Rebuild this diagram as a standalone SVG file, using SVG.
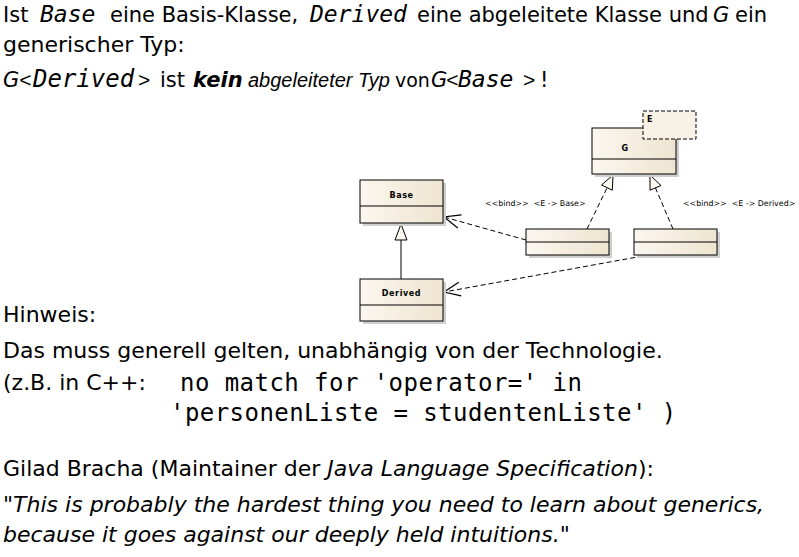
<svg xmlns="http://www.w3.org/2000/svg" width="799" height="557" viewBox="0 0 799 557">
<defs>
<linearGradient id="cls" x1="0" y1="0" x2="1" y2="0">
<stop offset="0" stop-color="#fbf7ef"/>
<stop offset="1" stop-color="#eee4d0"/>
</linearGradient>
<marker id="open" markerUnits="userSpaceOnUse" markerWidth="20" markerHeight="20" viewBox="-14 -8 16 16" refX="0" refY="0" orient="auto">
<path d="M-13,-5.5 L0,0 L-13,5.5" fill="none" stroke="#000" stroke-width="1"/>
</marker>
<style>
.t{font-family:"DejaVu Sans",Verdana,sans-serif;font-size:22px;fill:#000}
.h{font-size:21px}
.i{font-style:italic}
.b{font-weight:bold}
.br{font-family:"Liberation Sans",Arial,sans-serif;font-size:21px}
.m{font-family:"DejaVu Sans Mono","Liberation Mono",monospace;font-style:italic;font-size:23px}
.code{font-family:"DejaVu Sans Mono","Liberation Mono",monospace;font-size:24px;letter-spacing:0.45px;fill:#000}
.box{fill:url(#cls);stroke:#000;stroke-width:1}
.shadow{fill:#cfcfcf}
.ln{stroke:#000;stroke-width:1;fill:none}
.dash{stroke:#000;stroke-width:1;fill:none;stroke-dasharray:5,3}
.lbl{font-family:"DejaVu Sans",Verdana,sans-serif;font-size:8px;font-weight:bold;fill:#000;text-anchor:middle;letter-spacing:0.6px}
.bind{font-family:"DejaVu Sans",Verdana,sans-serif;font-size:7.9px;fill:#000;white-space:pre}
</style>
</defs>
<rect width="799" height="557" fill="#fff"/>

<g id="text">
<text class="t h" y="22"><tspan x="3">Ist</tspan><tspan x="40" class="m">Base</tspan><tspan x="110">eine Basis-Klasse,</tspan><tspan x="310" class="m">Derived</tspan><tspan x="417">eine abgeleitete Klasse und</tspan><tspan x="713" class="i">G</tspan><tspan x="735">ein</tspan></text>
<text class="t" x="3" y="52">generischer Typ:</text>
<text class="t h" y="87"><tspan x="3" class="i">G</tspan><tspan x="19" class="i br">&lt;</tspan><tspan x="33" class="m" style="font-size:24px">Derived</tspan><tspan x="138" class="br">&gt;</tspan><tspan x="160">ist</tspan><tspan x="193" class="i b">kein</tspan><tspan x="248" class="i" style="font-family:'Liberation Sans',Arial,sans-serif;font-size:20px">abgeleiteter Typ</tspan><tspan x="395" style="font-size:19px">von</tspan><tspan x="431" class="i">G</tspan><tspan x="446" class="i br">&lt;</tspan><tspan x="458" class="m">Base</tspan><tspan x="523" class="br">&gt;</tspan><tspan x="540">!</tspan></text>
<text class="t" x="3" y="322">Hinweis:</text>
<text class="t" x="3" y="358">Das muss generell gelten, unabhängig von der Technologie.</text>
<text class="t" x="3" y="390">(z.B. in C++:</text>
<text class="code" x="180" y="391">no match for 'operator=' in</text>
<text class="code" x="170" y="421">'personenListe = studentenListe' )</text>
<text class="t" x="3" y="476">Gilad Bracha (Maintainer der <tspan class="i">Java Language Specification</tspan>):</text>
<text class="t i" x="3" y="512">"This is probably the hardest thing you need to learn about generics,</text>
<text class="t i" x="3" y="542">because it goes against our deeply held intuitions."</text>
</g>

<g id="connectors">
<line class="ln" x1="401" y1="279" x2="401" y2="240"/>
<polygon points="401,224 395,240 407,240" fill="#fbf8f0" stroke="#000" stroke-width="1"/>
<line class="dash" x1="587" y1="229" x2="607" y2="188"/>
<polygon points="613,175 601.5,185 612.3,190.2" fill="#fbf8f0" stroke="#000" stroke-width="1"/>
<line class="dash" x1="673" y1="229" x2="655.5" y2="188"/>
<polygon points="650,175 661,185.5 650,190.2" fill="#fbf8f0" stroke="#000" stroke-width="1"/>
<line class="dash" x1="526" y1="240" x2="444" y2="217" marker-end="url(#open)"/>
<line class="dash" x1="643" y1="256" x2="444" y2="292" marker-end="url(#open)"/>
<text class="bind" x="485" y="206" xml:space="preserve">&lt;&lt;bind&gt;&gt;  &lt;E -&gt; Base&gt;</text>
<text class="bind" x="683" y="206" xml:space="preserve">&lt;&lt;bind&gt;&gt;  &lt;E -&gt; Derived&gt;</text>
</g>

<g id="Base">
<rect class="shadow" x="363" y="183" width="83" height="43"/>
<rect class="box" x="360" y="180" width="83" height="43"/>
<line class="ln" x1="360" y1="206" x2="443" y2="206"/>
<text class="lbl" x="401.5" y="198">Base</text>
</g>

<g id="Derived">
<rect class="shadow" x="363" y="282" width="83" height="42"/>
<rect class="box" x="360" y="279" width="83" height="42"/>
<line class="ln" x1="360" y1="305" x2="443" y2="305"/>
<text class="lbl" x="401.5" y="296">Derived</text>
</g>

<g id="G">
<rect class="shadow" x="595" y="131" width="84" height="46"/>
<rect class="box" x="592" y="128" width="84" height="46"/>
<line class="ln" x1="592" y1="159" x2="676" y2="159"/>
<text class="lbl" x="625" y="151">G</text>
<rect x="643" y="111" width="53" height="28" fill="#f8f1e5" stroke="#000" stroke-width="1" stroke-dasharray="4,2"/>
<text class="lbl" x="650" y="122">E</text>
</g>

<g id="BindBase">
<rect class="shadow" x="529" y="232" width="83" height="26"/>
<rect class="box" x="526" y="229" width="83" height="26"/>
<line class="ln" x1="526" y1="242" x2="609" y2="242"/>
</g>

<g id="BindDerived">
<rect class="shadow" x="637" y="232" width="83" height="26"/>
<rect class="box" x="634" y="229" width="83" height="26"/>
<line class="ln" x1="634" y1="242" x2="717" y2="242"/>
</g>
</svg>
